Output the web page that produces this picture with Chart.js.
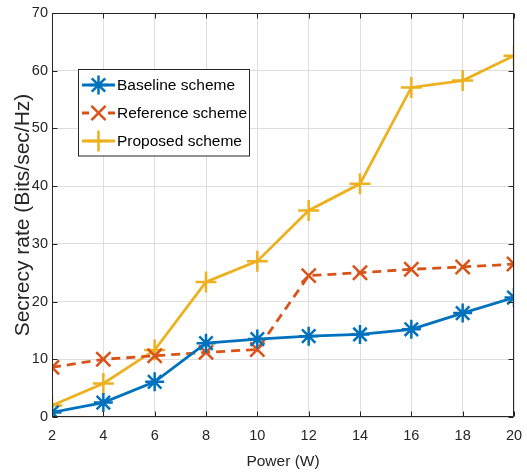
<!DOCTYPE html>
<html>
<head>
<meta charset="utf-8">
<script src="https://cdn.jsdelivr.net/npm/chart.js@4/dist/chart.umd.min.js"></script>
<style>
  html, body { margin: 0; padding: 0; background: #fff; }
  #wrap { width: 527px; height: 474px; position: relative; }
</style>
</head>
<body>
<div id="wrap"><canvas id="chart"></canvas></div>
<script>
// Transmit power (W)
const powerLevels = [2, 4, 6, 8, 10, 12, 14, 16, 18, 20];
// Secrecy rate (Bits/sec/Hz) per scheme
const baselineRate  = [0.8, 2.5, 6.1, 12.8, 13.5, 14.0, 14.3, 15.2, 18.0, 20.7];
const referenceRate = [8.6, 10.0, 10.6, 11.2, 11.7, 24.5, 25.0, 25.6, 26.0, 26.5];
const proposedRate  = [2.0, 5.8, 11.6, 23.4, 27.0, 35.8, 40.4, 57.1, 58.3, 62.6];
const seriesNames = ['Baseline scheme', 'Reference scheme', 'Proposed scheme'];
const xTicks = [2, 4, 6, 8, 10, 12, 14, 16, 18, 20];
const yTicks = [0, 10, 20, 30, 40, 50, 60, 70];

const BLUE = '#0072BD', ORANGE = '#D95319', YELLOW = '#EDB120';
const FONT = '"Liberation Sans", Arial, Helvetica, sans-serif';
const AXIS = '#262626';

const toXY = (vals) => vals.map((v, i) => ({ x: powerLevels[i], y: v }));

// Box around the axes, inward tick marks and the in-plot legend
const framePlugin = {
  id: 'frame',
  afterDatasetsDraw(chart) {
    const { ctx, chartArea: a, scales } = chart;
    ctx.save();
    ctx.strokeStyle = AXIS;
    ctx.lineWidth = 1;
    ctx.beginPath();
    const L = Math.round(a.left) + 0.5, R = Math.round(a.right) - 0.5;
    const T = Math.round(a.top) + 0.5, B = Math.round(a.bottom) - 0.5;
    ctx.rect(L, T, R - L, B - T);
    const tl = 5;
    xTicks.forEach(v => {
      const px = Math.round(scales.x.getPixelForValue(v)) + 0.5;
      ctx.moveTo(px, B); ctx.lineTo(px, B - tl);
      ctx.moveTo(px, T); ctx.lineTo(px, T + tl);
    });
    yTicks.forEach(v => {
      const py = Math.round(scales.y.getPixelForValue(v)) + 0.5;
      ctx.moveTo(L, py); ctx.lineTo(L + tl, py);
      ctx.moveTo(R, py); ctx.lineTo(R - tl, py);
    });
    ctx.stroke();

    // legend
    const box = { x: 78.5, y: 69.5, w: 171, h: 86.5 };
    ctx.fillStyle = '#fff';
    ctx.fillRect(box.x, box.y, box.w, box.h);
    ctx.strokeStyle = AXIS;
    ctx.strokeRect(box.x, box.y, box.w, box.h);
    const rows = [85, 113, 141];
    ctx.font = '15.5px ' + FONT;
    ctx.textBaseline = 'middle';
    chart.data.datasets.forEach((ds, i) => {
      const y = rows[i];
      ctx.save();
      ctx.strokeStyle = ds.borderColor;
      ctx.lineWidth = ds.borderWidth;
      ctx.beginPath();
      if (ds.borderDash) {
        ctx.moveTo(82, y); ctx.lineTo(89, y);
        ctx.moveTo(108, y); ctx.lineTo(115, y);
      } else {
        ctx.moveTo(82, y); ctx.lineTo(115, y);
      }
      ctx.stroke();
      ctx.lineWidth = ds.pointBorderWidth;
      Chart.helpers.drawPoint(ctx, {
        pointStyle: ds.pointStyle, radius: ds.pointRadius, borderWidth: ds.pointBorderWidth, rotation: 0
      }, 98.5, y);
      ctx.restore();
      ctx.fillStyle = '#000';
      ctx.fillText(ds.label, 117, y + 1);
    });
    ctx.restore();
  }
};

new Chart(document.getElementById('chart'), {
  type: 'line',
  data: {
    datasets: [
      {
        label: seriesNames[0], data: toXY(baselineRate),
        borderColor: BLUE, backgroundColor: BLUE, borderWidth: 2.8,
        pointStyle: 'star', pointRadius: 9.5, pointBorderWidth: 2.5,
        pointBorderColor: BLUE, pointBackgroundColor: BLUE
      },
      {
        label: seriesNames[1], data: toXY(referenceRate),
        borderColor: ORANGE, backgroundColor: ORANGE, borderWidth: 2.8, borderDash: [9, 6],
        pointStyle: 'crossRot', pointRadius: 10, pointBorderWidth: 2.5,
        pointBorderColor: ORANGE, pointBackgroundColor: ORANGE
      },
      {
        label: seriesNames[2], data: toXY(proposedRate),
        borderColor: YELLOW, backgroundColor: YELLOW, borderWidth: 2.8,
        pointStyle: 'cross', pointRadius: 10.5, pointBorderWidth: 2.5,
        pointBorderColor: YELLOW, pointBackgroundColor: YELLOW
      }
    ]
  },
  options: {
    responsive: true,
    maintainAspectRatio: false,
    animation: false,
    layout: { padding: { top: 13, right: 12, left: 0, bottom: 0 } },
    plugins: { legend: { display: false }, tooltip: { enabled: false } },
    elements: { line: { tension: 0 } },
    scales: {
      x: {
        type: 'linear', min: 2, max: 20,
        afterBuildTicks(scale) { scale.ticks = xTicks.map(v => ({ value: v })); },
        afterFit(scale) { scale.height = 57; scale.paddingLeft = 0; scale.paddingRight = 0; },
        grid: { color: '#dedede', lineWidth: 1, drawTicks: false, tickLength: 0 },
        border: { display: false },
        ticks: { color: '#262626', font: { family: FONT, size: 14.5 }, padding: 10, maxRotation: 0 },
        title: { display: true, text: 'Power (W)', color: '#262626', font: { family: FONT, size: 15.5 }, padding: { top: 0, bottom: 3 } }
      },
      y: {
        type: 'linear', min: 0, max: 70,
        afterBuildTicks(scale) { scale.ticks = yTicks.map(v => ({ value: v })); },
        afterFit(scale) { scale.width = 52; scale.paddingTop = 0; scale.paddingBottom = 0; },
        grid: { color: '#dedede', lineWidth: 1, drawTicks: false, tickLength: 0 },
        border: { display: false },
        ticks: { color: '#262626', font: { family: FONT, size: 14.5 }, padding: 4 },
        title: { display: true, text: 'Secrecy rate (Bits/sec/Hz)', color: '#262626', font: { family: FONT, size: 21 }, padding: { top: 11, bottom: 0 } }
      }
    }
  },
  plugins: [framePlugin]
});
</script>
</body>
</html>
